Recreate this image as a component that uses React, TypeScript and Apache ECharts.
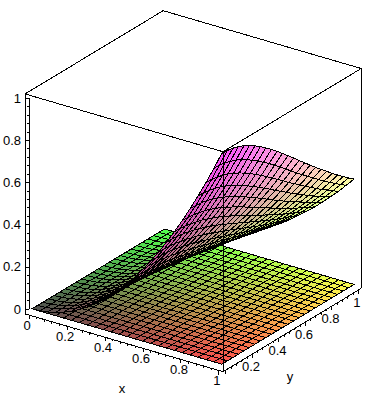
import React, { useEffect, useRef } from "react";
import * as echarts from "echarts";

// Sample positions along both horizontal axes of the mesh
const gridX = [0,.042,.083,.125,.167,.208,.25,.292,.333,.375,.417,.458,.5,.542,.583,.625,.667,.708,.75,.792,.833,.875,.917,.958,1];
const gridY = [0,.042,.083,.125,.167,.208,.25,.292,.333,.375,.417,.458,.5,.542,.583,.625,.667,.708,.75,.792,.833,.875,.917,.958,1];

// Heights of the upper sheet: one row per gridY value, one value per gridX value
const sheetRow00 = [0,.002,.007,.016,.028,.043,.063,.085,.111,.141,.174,.210,.250,.293,.340,.391,.444,.502,.563,.627,.694,.766,.840,.918,1];
const sheetRow01 = [0,.002,.007,.016,.028,.043,.062,.085,.111,.140,.173,.210,.250,.293,.340,.390,.444,.501,.562,.626,.693,.764,.839,.917,.998];
const sheetRow02 = [0,.002,.007,.016,.028,.043,.062,.084,.110,.140,.172,.209,.248,.291,.338,.388,.441,.498,.559,.622,.690,.760,.834,.912,.993];
const sheetRow03 = [0,.002,.007,.015,.027,.043,.062,.084,.109,.138,.171,.207,.246,.289,.335,.385,.438,.494,.554,.617,.684,.754,.827,.904,.985];
const sheetRow04 = [0,.002,.007,.015,.027,.042,.061,.083,.108,.137,.169,.204,.243,.285,.331,.380,.432,.488,.547,.610,.676,.745,.818,.894,.973];
const sheetRow05 = [0,.002,.007,.015,.027,.042,.060,.082,.106,.135,.166,.201,.240,.281,.326,.374,.426,.481,.539,.601,.666,.734,.805,.880,.958];
const sheetRow06 = [0,.002,.007,.015,.026,.041,.059,.080,.105,.132,.163,.198,.235,.276,.320,.368,.418,.472,.529,.590,.654,.721,.791,.864,.941];
const sheetRow07 = [0,.002,.006,.014,.026,.040,.058,.078,.102,.130,.160,.194,.230,.270,.314,.360,.410,.462,.518,.578,.640,.706,.774,.846,.922];
const sheetRow08 = [0,.002,.006,.014,.025,.039,.056,.077,.100,.127,.156,.189,.225,.264,.306,.352,.400,.452,.506,.564,.625,.689,.756,.827,.900];
const sheetRow09 = [0,.002,.006,.014,.024,.038,.055,.075,.097,.123,.152,.184,.219,.257,.298,.342,.390,.440,.493,.549,.609,.671,.737,.805,.877];
const sheetRow10 = [0,.001,.006,.013,.024,.037,.053,.072,.095,.120,.148,.179,.213,.250,.290,.333,.379,.428,.479,.534,.592,.652,.716,.783,.852];
const sheetRow11 = [0,.001,.006,.013,.023,.036,.052,.070,.092,.116,.143,.174,.207,.242,.281,.323,.367,.415,.465,.518,.574,.633,.694,.759,.826];
const sheetRow12 = [0,.001,.006,.013,.022,.035,.050,.068,.089,.113,.139,.168,.200,.235,.272,.313,.356,.401,.450,.501,.556,.613,.672,.735,.800];
const sheetRow13 = [0,.001,.005,.012,.021,.034,.048,.066,.086,.109,.134,.162,.193,.227,.263,.302,.344,.388,.435,.485,.537,.592,.650,.710,.773];
const sheetRow14 = [0,.001,.005,.012,.021,.032,.047,.063,.083,.105,.130,.157,.187,.219,.254,.291,.332,.374,.420,.468,.518,.571,.627,.685,.746];
const sheetRow15 = [0,.001,.005,.011,.020,.031,.045,.061,.080,.101,.125,.151,.180,.211,.245,.281,.320,.361,.404,.451,.499,.551,.604,.660,.719];
const sheetRow16 = [0,.001,.005,.011,.019,.030,.043,.059,.077,.097,.120,.145,.173,.203,.236,.270,.308,.347,.389,.434,.481,.530,.582,.636,.692];
const sheetRow17 = [0,.001,.005,.010,.018,.029,.042,.057,.074,.094,.116,.140,.166,.195,.227,.260,.296,.334,.375,.417,.462,.510,.560,.612,.666];
const sheetRow18 = [0,.001,.004,.010,.018,.028,.040,.054,.071,.090,.111,.134,.160,.188,.218,.250,.284,.321,.360,.401,.444,.490,.538,.588,.640];
const sheetRow19 = [0,.001,.004,.010,.017,.027,.038,.052,.068,.086,.107,.129,.154,.180,.209,.240,.273,.308,.346,.385,.427,.471,.517,.565,.615];
const sheetRow20 = [0,.001,.004,.009,.016,.026,.037,.050,.066,.083,.102,.124,.148,.173,.201,.231,.262,.296,.332,.370,.410,.452,.496,.542,.590];
const sheetRow21 = [0,.001,.004,.009,.016,.025,.035,.048,.063,.080,.098,.119,.142,.166,.193,.221,.252,.284,.319,.355,.393,.434,.476,.520,.566];
const sheetRow22 = [0,.001,.004,.008,.015,.024,.034,.046,.060,.076,.094,.114,.136,.159,.185,.212,.242,.273,.306,.341,.377,.416,.457,.499,.543];
const sheetRow23 = [0,.001,.004,.008,.014,.023,.033,.044,.058,.073,.090,.110,.130,.153,.177,.204,.232,.262,.293,.327,.362,.399,.438,.479,.521];
const sheetRow24 = [0,.001,.003,.008,.014,.022,.031,.043,.056,.070,.087,.105,.125,.147,.170,.195,.222,.251,.281,.313,.347,.383,.420,.459,.500];
const sheetRows = [sheetRow00,sheetRow01,sheetRow02,sheetRow03,sheetRow04,sheetRow05,sheetRow06,sheetRow07,sheetRow08,sheetRow09,sheetRow10,sheetRow11,sheetRow12,sheetRow13,sheetRow14,sheetRow15,sheetRow16,sheetRow17,sheetRow18,sheetRow19,sheetRow20,sheetRow21,sheetRow22,sheetRow23,sheetRow24];

// Height of the flat lower sheet
const planeHeight = 0;

// Tick values and labels
const majorTicks = [0,.2,.4,.6,.8,1];
const minorTicks = [.04,.08,.12,.16,.24,.28,.32,.36,.44,.48,.52,.56,.64,.68,.72,.76,.84,.88,.92,.96];
const xTickLabels = ["0","0.2","0.4","0.6","0.8","1"];
const yTickLabels = ["0.2","0.4","0.6","0.8","1"];
const yTickLabelValues = [.2,.4,.6,.8,1];

// Orthographic view of the box
const ORIGIN = [32, 308.8];
const EX = [189.8, 55.4];
const EY = [132.4, -79.8];
const EZ = -210.8;
const LO = -0.0217;
const HI = 1.0217;
const FONT_FAMILY = '"Liberation Sans", Arial, sans-serif';
const FONT = `13px ${FONT_FAMILY}`;

const project = (x: number, y: number, z: number) => [
  ORIGIN[0] + x * EX[0] + y * EY[0],
  ORIGIN[1] + x * EX[1] + y * EY[1] + z * EZ,
];

const heightAt = (surface: number, i: number, j: number) =>
  surface === 0 ? planeHeight : sheetRows[j][i];

const buildCells = () => {
  const cells: { value: number[]; depth: number; surface: number }[] = [];
  for (const surface of [0, 1]) {
    for (let j = 0; j < gridY.length - 1; j++) {
      for (let i = 0; i < gridX.length - 1; i++) {
        const mx = (gridX[i] + gridX[i + 1]) / 2;
        const my = (gridY[j] + gridY[j + 1]) / 2;
        const mz = (heightAt(surface, i, j) + heightAt(surface, i + 1, j) + heightAt(surface, i, j + 1) + heightAt(surface, i + 1, j + 1)) / 4;
        const c = project(mx, my, mz);
        cells.push({ value: [c[0], c[1], surface, i, j], depth: mx - 1.43 * my + 0.807 * mz, surface });
      }
    }
  }
  cells.sort((a, b) => a.surface - b.surface || a.depth - b.depth);
  return cells.map((c) => c.value);
};

const shade = (x: number, y: number, z: number) => {
  const ch = (t: number) => Math.round(78 + 177 * Math.min(1, Math.max(0, t)));
  return `rgb(${ch(x)},${ch(y)},${ch(z)})`;
};

const buildSegments = () => {
  const seg = (a: number[], b: number[]) => {
    const p = project(a[0], a[1], a[2]);
    const q = project(b[0], b[1], b[2]);
    return [p[0], p[1], q[0], q[1]];
  };
  const out: number[][] = [
    seg([LO, LO, HI], [LO, HI, HI]),
    seg([LO, HI, HI], [HI, HI, HI]),
    seg([HI, HI, HI], [HI, LO, HI]),
    seg([HI, LO, HI], [LO, LO, HI]),
    seg([LO, LO, LO], [LO, LO, HI]),
    seg([HI, HI, LO], [HI, HI, HI]),
    seg([LO, LO, LO], [HI, LO, LO]),
    seg([HI, LO, LO], [HI, HI, LO]),
  ];
  const tick = (p: number[], len: number) => [p[0], p[1], p[0], p[1] + len];
  majorTicks.forEach((t) => {
    out.push(tick(project(t, LO, LO), 4));
    out.push(tick(project(HI, t, LO), 4));
  });
  minorTicks.forEach((t) => {
    out.push(tick(project(t, LO, LO), 2));
    out.push(tick(project(HI, t, LO), 2));
  });
  return out;
};

const buildLabels = () => {
  const out: (number | string)[][] = [];
  majorTicks.forEach((t, k) => {
    const p = project(t, LO, LO);
    out.push([p[0] - 2, p[1] + 10, xTickLabels[k]]);
  });
  yTickLabelValues.forEach((t, k) => {
    const p = project(HI, t, LO);
    out.push([p[0] - 1.4, p[1] + 12.5, yTickLabels[k]]);
  });
  out.push([122, 388, "x"]);
  out.push([290, 376, "y"]);
  return out;
};

const labelRows = buildLabels();

export default function App() {
  const ref = useRef<HTMLDivElement>(null);
  useEffect(() => {
    document.body.style.margin = "0";
    const chart = echarts.init(ref.current!, undefined, { renderer: "svg" });
    const p0 = project(HI, LO, LO);
    const q0 = project(HI, LO, HI);
    const frontEdge = [[p0[0], p0[1], q0[0], q0[1]]];
    const lineItem = (_: any, api: any) => {
      const a = api.coord([api.value(0), api.value(1)]);
      const b = api.coord([api.value(2), api.value(3)]);
      return {
        type: "line",
        shape: { x1: a[0], y1: a[1], x2: b[0], y2: b[1] },
        style: { stroke: "#000", lineWidth: 1, fill: "none" },
      };
    };
    chart.setOption({
      animation: false,
      backgroundColor: "#fff",
      grid: [
        { left: 25, top: 98, width: 10, height: 211 },
        { left: 0, top: 0, width: 385, height: 398 },
      ],
      xAxis: [
        { type: "value", gridIndex: 0, show: false, min: 0, max: 1 },
        { type: "value", gridIndex: 1, show: false, min: 0, max: 385 },
      ],
      yAxis: [
        {
          type: "value",
          gridIndex: 0,
          min: 0,
          max: 1,
          interval: 0.2,
          axisLine: { show: true, lineStyle: { color: "#000", width: 1 } },
          axisTick: { show: true, length: 4, lineStyle: { color: "#000", width: 1 } },
          minorTick: { show: true, splitNumber: 5, length: 2, lineStyle: { color: "#000", width: 1 } },
          splitLine: { show: false },
          axisLabel: { color: "#000", margin: 8, fontSize: 13, fontFamily: FONT_FAMILY },
        },
        { type: "value", gridIndex: 1, show: false, min: 0, max: 398, inverse: true },
      ],
      series: [
        {
          type: "custom",
          name: "box",
          xAxisIndex: 1,
          yAxisIndex: 1,
          z: 1,
          silent: true,
          clip: false,
          renderItem: lineItem,
          data: buildSegments(),
          encode: { x: 0, y: 1 },
        },
        {
          type: "custom",
          name: "surface",
          xAxisIndex: 1,
          yAxisIndex: 1,
          z: 2,
          silent: true,
          clip: false,
          encode: { x: 0, y: 1 },
          data: buildCells(),
          renderItem: (_: any, api: any) => {
            const surface = api.value(2);
            const i = api.value(3);
            const j = api.value(4);
            const corners = [[i, j], [i + 1, j], [i + 1, j + 1], [i, j + 1]];
            const points = corners.map(([a, b]) => api.coord(project(gridX[a], gridY[b], heightAt(surface, a, b))));
            const mx = (gridX[i] + gridX[i + 1]) / 2;
            const my = (gridY[j] + gridY[j + 1]) / 2;
            const mz = (heightAt(surface, i, j) + heightAt(surface, i + 1, j + 1)) / 2;
            return {
              type: "polygon",
              shape: { points },
              style: { fill: shade(mx, my, mz), stroke: "#000", lineWidth: 1 },
            };
          },
        },
        {
          type: "custom",
          name: "front edge",
          xAxisIndex: 1,
          yAxisIndex: 1,
          z: 3,
          silent: true,
          clip: false,
          renderItem: lineItem,
          data: frontEdge,
          encode: { x: 0, y: 1 },
        },
        {
          type: "custom",
          name: "labels",
          xAxisIndex: 1,
          yAxisIndex: 1,
          z: 4,
          silent: true,
          clip: false,
          encode: { x: 0, y: 1 },
          data: labelRows.map((r) => [r[0], r[1]]),
          renderItem: (params: any, api: any) => {
            const a = api.coord([api.value(0), api.value(1)]);
            return {
              type: "text",
              x: a[0],
              y: a[1],
              style: { text: labelRows[params.dataIndex][2], font: FONT, fill: "#000", align: "center", verticalAlign: "middle" },
            };
          },
        },
      ],
    });
    return () => chart.dispose();
  }, []);
  return (
    <>
      <style>{`#surface-chart svg path{shape-rendering:crispEdges}`}</style>
      <div id="surface-chart" ref={ref} style={{ width: 385, height: 398 }} />
    </>
  );
}
